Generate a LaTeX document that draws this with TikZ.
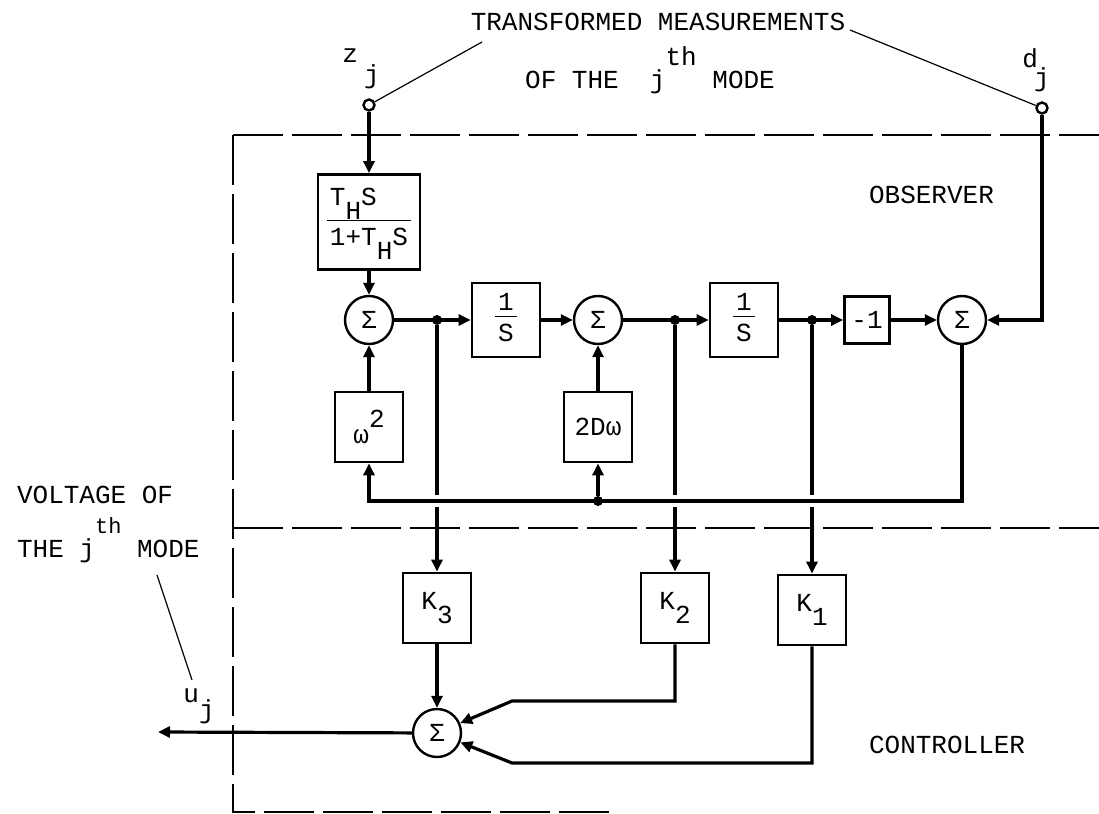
\documentclass[tikz,border=0pt]{standalone}
\usepackage{fontspec}
\setmainfont{Liberation Mono}
\usepackage{tikz}
\usetikzlibrary{
  arrows.meta,
  positioning,
  calc,
}

\newcommand{\dn}[2][0.55em]{\raisebox{-#1}{#2}}
\newcommand{\up}[2][0.6em]{\raisebox{#1}{#2}}
\newcommand{\frc}[3][-2pt]{{\setlength{\arrayrulewidth}{0.9pt}\setlength{\tabcolsep}{1.5pt}%
  \begin{tabular}{l}#2\\[#1]\hline\rule{0pt}{12pt}#3\end{tabular}}}

\begin{document}
\begin{tikzpicture}[
  x=0.5pt, y=-0.5pt,
  font=\fontsize{13}{15}\selectfont,
  every node/.style={align=center},
  blk/.style={draw=black, line width=1.4pt, inner sep=0pt,
              minimum width=34pt, minimum height=35pt},
  sum/.style={draw=black, circle, line width=1.2pt, inner sep=0pt,
              minimum size=24pt},
  sig/.style={line width=1.6pt, -{Triangle[length=6pt,width=5.5pt]}},
  wire/.style={line width=1.6pt},
  bnd/.style={line width=1pt, dash pattern=on 25pt off 4.5pt},
  dotj/.style={circle, fill=black, inner sep=0pt, minimum size=5pt},
  term/.style={circle, draw=black, line width=1.2pt, inner sep=0pt,
               minimum size=5.5pt},
  lead/.style={line width=0.6pt},
]
\useasboundingbox (0,0) rectangle (1099,814);

% observer / controller frame
\draw[bnd] (233,135) -- (1099,135);
\draw[bnd] (233,135) -- (233,812) -- (615,812);
\draw[bnd] (233,528) -- (1099,528);

\node[anchor=base] (ttl) at (658,30) {TRANSFORMED MEASUREMENTS};
\node[anchor=base] (ttl2) at (650,88) {OF THE\ \ j\up[11.5pt]{th} MODE};
\node[anchor=west] (obs) at (862,195) {OBSERVER};
\node[anchor=west] (ctl) at (862,745) {CONTROLLER};
\node[anchor=base west] (volt) at (10,503) {VOLTAGE OF};
\node[anchor=base west] (volt2) at (10,557)
  {THE j\up[12pt]{\fontsize{11}{12}\selectfont th} MODE};

\node[term] (zin) at (369,105) {};
\node[term] (din) at (1042,108) {};
\node[anchor=base] (zlab) at (361,62) {z\hspace{3pt}\dn[10.5pt]{j}};
\node[anchor=base] (dlab) at (1036,67) {d\hspace{-2pt}\dn[9.5pt]{j}};
\node[anchor=base] (ulab) at (199,702) {u\dn[8pt]{j}};

\coordinate (tl) at (482,42);
\coordinate (tr) at (850,30);
\coordinate (ul) at (157,575);
\coordinate (ue) at (192,680);

% observer
\node[blk, minimum width=51pt, minimum height=47.5pt] (HP) at (369,222)
  {\frc[2pt]{T\dn{H}S}{1+T\dn{H}S}};
\node[sum] (S1) at (369,320) {Σ};
\node[blk, minimum height=37pt] (I1) at (506,320) {\frc{1}{S}};
\node[sum] (S2) at (598,320) {Σ};
\node[blk, minimum height=37pt] (I2) at (744,320) {\frc{1}{S}};
\node[blk, minimum width=22.5pt, minimum height=23.5pt] (N1) at (867,320) {-1};
\node[sum] (S4) at (962,320) {Σ};
\node[blk] (W2) at (369,427) {ω\up[8pt]{2}};
\node[blk] (D2) at (598,427) {2Dω};
\node[dotj] (b1) at (437,320) {};
\node[dotj] (b2) at (675,320) {};
\node[dotj] (b3) at (812,320) {};
\coordinate (fb) at (962,501);

% controller
\node[blk] (K3) at (437,608) {K\dn{3}};
\node[blk] (K2) at (675,608) {K\dn{2}};
\node[blk] (K1) at (812,610) {K\dn{1}};
\node[sum] (S5) at (437,733) {Σ};
\coordinate (c2) at (512,701);
\coordinate (c1) at (512,763);
\coordinate (uout) at (158,732);

\draw[sig] (zin) -- (HP);
\draw[sig] (HP) -- (S1);
\draw[sig] (S1) -- (I1);
\draw[sig] (I1) -- (S2);
\draw[sig] (S2) -- (I2);
\draw[sig] (I2) -- (N1);
\draw[sig] (N1) -- (S4);
\draw[sig] (din) |- (S4);

\draw[sig] (b1) -- (K3);
\draw[sig] (b2) -- (K2);
\draw[sig] (b3) -- (K1);

% feedback path crosses the gain lines
\draw[white, line width=6pt] (S4 |- fb) -- (W2 |- fb);
\draw[sig] (S4) |- (W2 |- fb) -- (W2);
\node[dotj] (jD) at (598,501) {};
\draw[sig] (jD) -- (D2);
\draw[sig] (W2) -- (S1);
\draw[sig] (D2) -- (S2);

\draw[sig] (K3) -- (S5);
\draw[sig] (K2) |- (c2) -- (S5);
\draw[sig] (K1) |- (c1) -- (S5);
\draw[sig] (S5) -- (uout);

\draw[lead] (zin) -- (tl);
\draw[lead] (tr) -- (din);
\draw[lead] (ul) -- (ue);

\end{tikzpicture}
\end{document}
